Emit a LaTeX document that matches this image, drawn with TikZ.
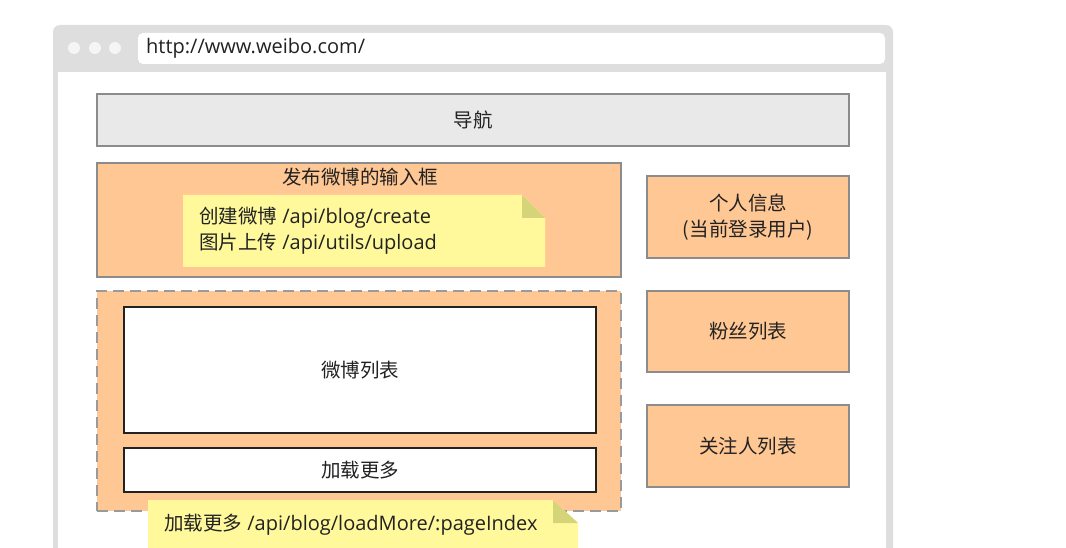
\documentclass[tikz,border=0pt]{standalone}
\usepackage{fontspec}
\setmainfont{Open Sans}
\newfontfamily\cjk[Scale=0.975]{Noto Sans CJK SC}
\usepackage{xcolor}
\definecolor{frame-gray}{HTML}{DEDEDE}
\definecolor{dot-gray}{HTML}{F5F5F5}
\definecolor{nav-gray}{HTML}{E9E9E9}
\definecolor{edge-gray}{HTML}{8C8C8C}
\definecolor{dash-gray}{HTML}{9A9A9A}
\definecolor{box-peach}{HTML}{FFC794}
\definecolor{note-yellow}{HTML}{FFF99C}
\definecolor{note-fold}{HTML}{D5D479}
\definecolor{jet}{HTML}{222222}

\begin{document}
\begin{tikzpicture}[x=1pt, y=-1pt,
    every node/.style={font=\fontsize{20}{26}\selectfont, text=jet, inner sep=0pt},
    area/.style={draw=edge-gray, line width=2pt, fill=box-peach},
    panel/.style={draw=jet, line width=2.4pt, fill=white}]
    \clip (0,0) rectangle (1066,548);
    % browser window
    \fill[frame-gray, rounded corners=7pt] (53,25) rectangle (893,600);
    \fill[white] (58,72) rectangle (886,600);
    \fill[white, rounded corners=5pt] (138,33) rectangle (885,64);
    \foreach \x in {74,95,115}
      \fill[dot-gray] (\x,48) circle (6);
    \node[anchor=west] (url) at (146,48) {http://www.weibo.com/};
    % page blocks
    \node[draw=edge-gray, line width=2pt, fill=nav-gray, minimum width=752, minimum height=52] (nav) at (473,120) {\cjk 导航};
    \node[area, minimum width=524, minimum height=114] (post) at (359,220) {};
    \node (posttitle) at (360,177) {\cjk 发布微博的输入框};
    \node[area, draw=dash-gray, line width=2.5pt, dash pattern=on 11pt off 6pt, minimum width=524, minimum height=220] (feed) at (359,401) {};
    \node[panel, minimum width=472, minimum height=126] (list) at (360,370) {\cjk 微博列表};
    \node[panel, minimum width=472, minimum height=44] (more) at (360,470) {\cjk 加载更多};
    \node[area, align=center, minimum width=202, minimum height=82] (profile) at (748,217) {\cjk 个人信息\\\cjk (当前登录用户)};
    \node[area, minimum width=202, minimum height=81] (fans) at (748,331) {\cjk 粉丝列表};
    \node[area, minimum width=202, minimum height=82] (follow) at (748,446) {\cjk 关注人列表};
    % sticky notes
    \fill[note-yellow] (183,195) -- (522,195) -- (545,218) -- (545,267) -- (183,267) -- cycle;
    \fill[note-fold] (522,195) -- (522,218) -- (545,218) -- cycle;
    \node[anchor=west, align=left] (postapi) at (199,231) {{\cjk 创建微博} /api/blog/create\\{\cjk 图片上传} /api/utils/upload};
    \fill[note-yellow] (148,500) -- (553,500) -- (578,523) -- (578,600) -- (148,600) -- cycle;
    \fill[note-fold] (553,500) -- (553,523) -- (578,523) -- cycle;
    \node[anchor=west] (moreapi) at (164,525) {{\cjk 加载更多} /api/blog/loadMore/:pageIndex};
  \end{tikzpicture}
\end{document}
